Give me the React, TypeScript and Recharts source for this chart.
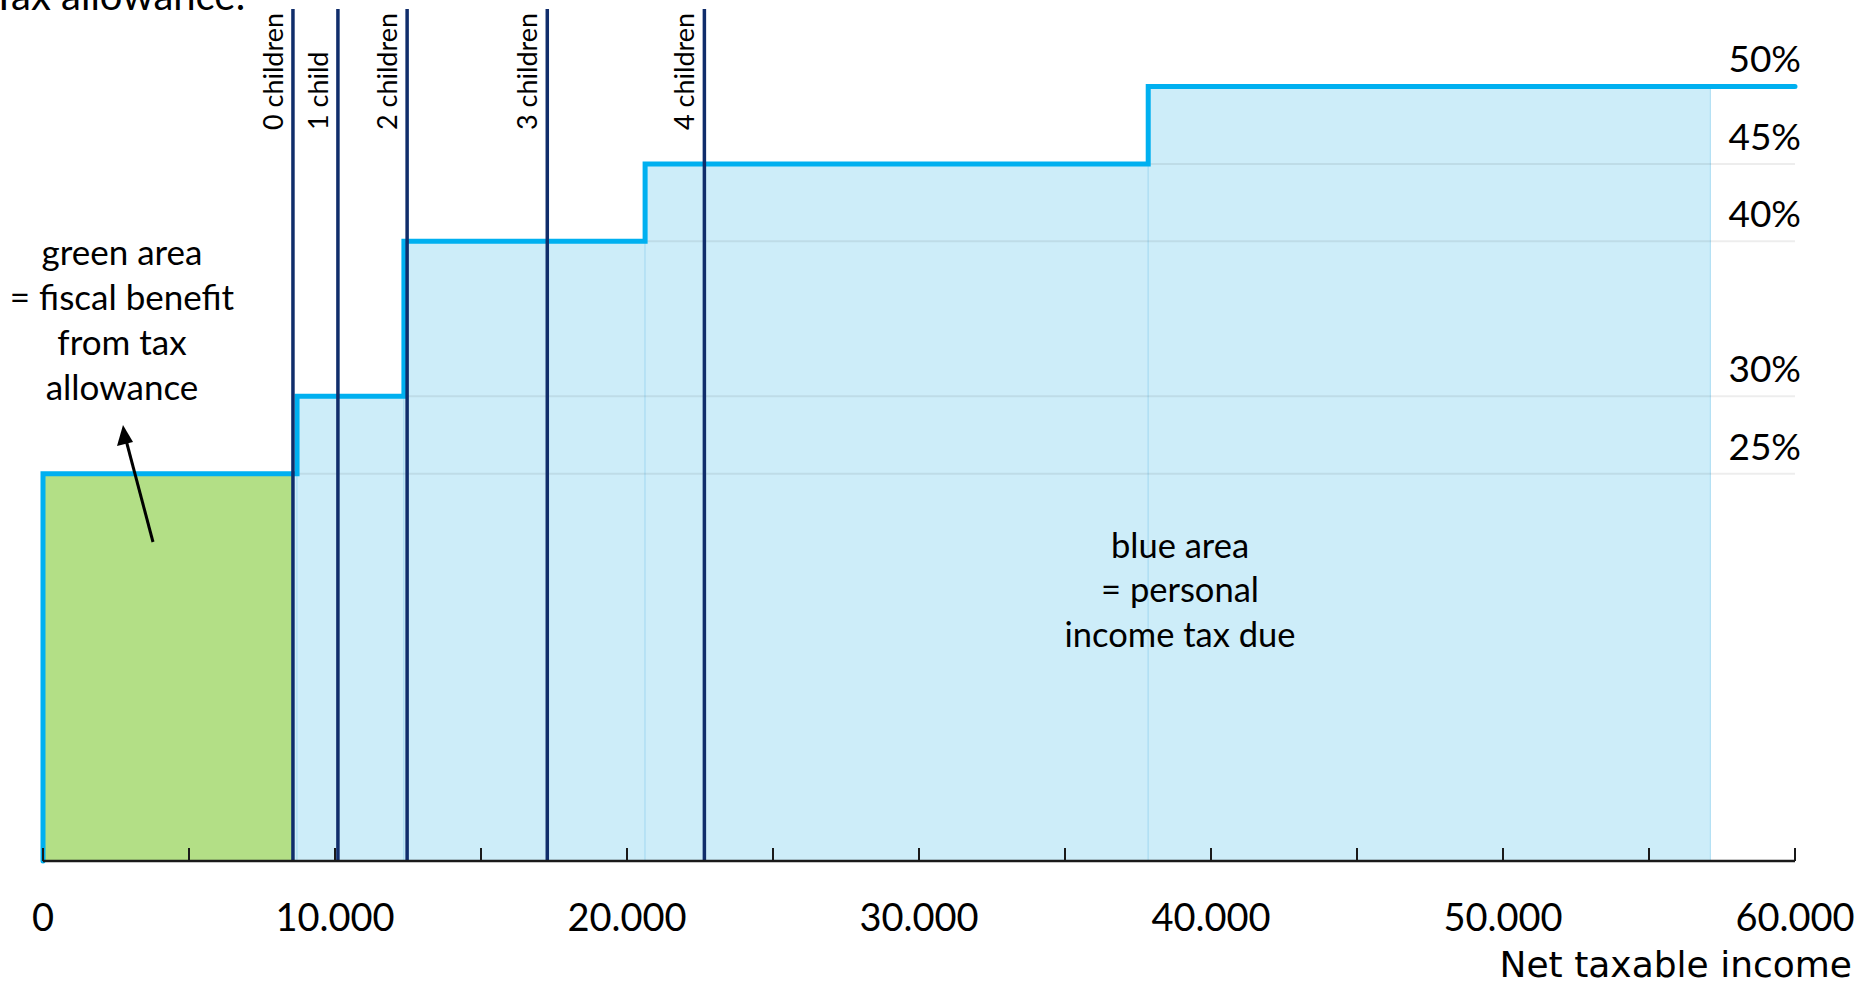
import React from "react";
import { ComposedChart, Line, XAxis, YAxis, ReferenceArea, ReferenceLine } from "recharts";

const W = 1866;
const H = 987;

// tax brackets: income where each rate starts, and the rate (%)
const bracketStart = [0, 8700, 12360, 20620, 37850];
const bracketRate = [25, 30, 40, 45, 50];
const maxIncome = 60000;
const blueFillEnd = 57100;

// tax-free allowance by number of children
const childLabels = ["0 children", "1 child", "2 children", "3 children", "4 children"];
const allowances = [8560, 10100, 12470, 17270, 22650];

const incomeTicks = [0, 5000, 10000, 15000, 20000, 25000, 30000, 35000, 40000, 45000, 50000, 55000, 60000];

const stepData = [
  { income: 0, rate: 0 },
  ...bracketStart.map((s, i) => ({ income: s, rate: bracketRate[i] })),
  { income: maxIncome, rate: bracketRate[bracketRate.length - 1] },
];

const FONT = '"Lato", "Open Sans", sans-serif';
const LINE_BLUE = "#00b0f0";
const FILL_BLUE = "#cdedf9";
const FILL_GREEN = "#b3df86";
const NAVY = "#102d6b";

const fmt = (v: number) => String(v).replace(/\B(?=(\d{3})+(?!\d))/g, ".");

const IncomeTick = ({ x, y, payload }: any) => {
  const major = payload.value % 10000 === 0;
  return (
    <g>
      <line x1={x} y1={y} x2={x} y2={y - 13} stroke="#1a1a1a" strokeWidth={2} />
      {major && (
        <text x={x} y={y + 70} textAnchor="middle" fontFamily={FONT} fontSize={38} fill="#000">
          {fmt(payload.value)}
        </text>
      )}
    </g>
  );
};

const childLabel = (text: string) => (props: any) => {
  const vb = props.viewBox || {};
  const x = vb.x - 10;
  const y = vb.y + 121;
  return (
    <text x={x} y={y} transform={`rotate(-90, ${x}, ${y})`} fontFamily={FONT} fontSize={27} fill="#000">
      {text}
    </text>
  );
};

const rateLabel = (rate: number) => (props: any) => {
  const vb = props.viewBox || {};
  const x = vb.x + vb.width + 6;
  const y = vb.y - 14;
  return (
    <text x={x} y={y} textAnchor="end" fontFamily={FONT} fontSize={37} fill="#000">
      {rate}%
    </text>
  );
};

export default function App() {
  const lastRate = bracketRate[bracketRate.length - 1];
  return (
    <div style={{ position: "absolute", left: 0, top: 0, width: W, height: H, background: "#fff" }}>
      <ComposedChart width={W} height={H} margin={{ top: 9, right: 71, bottom: 66, left: 43 }}>
        <XAxis
          dataKey="income"
          type="number"
          domain={[0, maxIncome]}
          ticks={incomeTicks}
          interval={0}
          height={60}
          tickSize={0}
          tickMargin={0}
          tickLine={false}
          axisLine={{ stroke: "#1a1a1a", strokeWidth: 2.5 }}
          tick={<IncomeTick />}
        />
        <YAxis type="number" domain={[0, 55]} hide />

        {bracketStart.map((s, i) => {
          const next = i + 1 < bracketStart.length ? bracketStart[i + 1] : blueFillEnd;
          return (
            <ReferenceArea
              key={`b${i}`}
              x1={s}
              x2={Math.min(next, blueFillEnd)}
              y1={0}
              y2={bracketRate[i]}
              fill={FILL_BLUE}
              fillOpacity={1}
              stroke="#a9dcf2"
              strokeWidth={1}
            />
          );
        })}
        <ReferenceArea x1={0} x2={allowances[0]} y1={0} y2={bracketRate[0]} fill={FILL_GREEN} fillOpacity={1} stroke="none" />

        {bracketStart.map((s, i) => (
          <ReferenceLine
            key={`g${i}`}
            segment={[
              { x: s, y: bracketRate[i] },
              { x: maxIncome, y: bracketRate[i] },
            ]}
            stroke={bracketRate[i] === lastRate ? "none" : "rgba(0,0,0,0.07)"}
            strokeWidth={2}
            label={rateLabel(bracketRate[i])}
          />
        ))}

        <Line
          data={stepData}
          dataKey="rate"
          type="stepAfter"
          stroke={LINE_BLUE}
          strokeWidth={5}
          strokeLinecap="round"
          dot={false}
          activeDot={false}
          isAnimationActive={false}
        />

        {allowances.map((a, i) => (
          <ReferenceLine key={`c${i}`} x={a} stroke={NAVY} strokeWidth={3.5} label={childLabel(childLabels[i])} />
        ))}
      </ComposedChart>

      <svg width={W} height={H} style={{ position: "absolute", left: 0, top: 0, pointerEvents: "none" }}>
        <text x={-8} y={10} fontFamily={FONT} fontSize={40} fill="#000">Tax allowance:</text>
        <g fontFamily={FONT} fontSize={35} fill="#000" textAnchor="middle">
          <text x={122} y={265}>green area</text>
          <text x={122} y={310}>= fiscal benefit</text>
          <text x={122} y={355}>from tax</text>
          <text x={122} y={400}>allowance</text>
        </g>
        <g fontFamily={FONT} fontSize={34.5} fill="#000" textAnchor="middle">
          <text x={1180} y={558}>blue area</text>
          <text x={1180} y={602}>= personal</text>
          <text x={1180} y={647}>income tax due</text>
        </g>
        <line x1={153} y1={542} x2={126} y2={440} stroke="#000" strokeWidth={3} />
        <polygon points="123,425 117,446 133,442" fill="#000" />
        <text x={1852} y={977} textAnchor="end" fontFamily='"DejaVu Sans", sans-serif' fontSize={36} fill="#000">
          Net taxable income
        </text>
      </svg>
    </div>
  );
}
